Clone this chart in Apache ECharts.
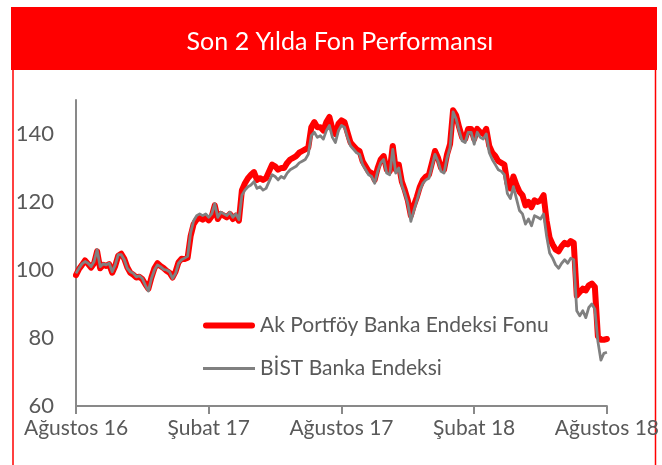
<!DOCTYPE html>
<html>
<head>
<meta charset="utf-8">
<script src="https://cdn.jsdelivr.net/npm/echarts@6/dist/echarts.min.js"></script>
<style>
  html, body { margin: 0; padding: 0; background: #ffffff; }
  #chart { width: 662px; height: 465px; }
</style>
</head>
<body>
<div id="chart"></div>
<script>
// Two years of index values (base 100), one sample roughly every three trading days
const chartTitle = 'Son 2 Yılda Fon Performansı';
const seriesNames = ['Ak Portföy Banka Endeksi Fonu', 'BİST Banka Endeksi'];
const xTickLabels = ['Ağustos 16', 'Şubat 17', 'Ağustos 17', 'Şubat 18', 'Ağustos 18'];
const yTicks = [60, 80, 100, 120, 140];

const fundValues = [
  98.5, 100.3, 101.5, 102.8, 101.8, 100.7, 102, 105.5, 100.5, 101.5, 101.2,
  101.7, 99.2, 101.2, 104.2, 104.8, 103.3, 100.8, 99.2, 98.6, 97.8,
  98, 97.3, 95.8, 94.5, 97.8, 100.5, 102, 101.2, 100.6, 99.8,
  99.2, 97.8, 99.5, 102.3, 103.3, 103.2, 103.6, 110, 113.5, 114.8,
  115.3, 114.8, 115.5, 114.6, 115.8, 119, 115, 116.5, 116, 115.5,
  116.5, 115, 116, 114.5, 123.5, 125.5, 127, 128, 128.8, 126.5,
  127, 126.5, 127, 129, 131, 130.5, 129.5, 130, 130, 131.5,
  132.5, 133, 133.5, 134.5, 135, 135.5, 136, 142, 143.5, 142,
  142, 141, 143.5, 145, 141.5, 140, 143, 144, 143.5, 140.5,
  137.5, 136.5, 135.5, 135, 132, 130.5, 129, 128.5, 126.5, 130,
  132.5, 133.5, 129.5, 129, 136.5, 129.5, 131, 126, 123.5, 120.5,
  116, 119, 121.5, 124.5, 126.5, 127.5, 128, 131.5, 135, 133,
  130, 129.5, 134, 137, 147, 145.5, 142, 139, 138.5, 141.5,
  141.5, 138.5, 141.5, 140.5, 140, 141.5, 136.5, 134.5, 133.5, 132,
  131.5, 131, 125.5, 124, 127.5, 125, 123, 122, 119, 120,
  118.5, 120.5, 120, 120.5, 122, 114.5, 109.5, 107.5, 106, 105.5,
  107, 108, 107.5, 108.5, 108, 92.5, 93.5, 94.5, 94, 95.5,
  96, 95, 80.5, 79.5, 79.5, 79.7
];

const bistValues = [
  99, 100.5, 101.8, 102.5, 102, 101, 102.5, 106, 101, 101.8, 101.5,
  102, 99.5, 101.5, 104.5, 104.5, 103, 100.5, 99.5, 99, 98,
  98.3, 97.5, 95.5, 93.8, 97.5, 100, 101.5, 101, 100.2, 100,
  99.5, 97.5, 99, 102, 103, 103.5, 104, 111, 114.5, 116,
  116.5, 116, 116.5, 115.5, 116.5, 119.5, 115.5, 117, 116.5, 116,
  117, 115.5, 116.5, 114.8, 122, 123.5, 124.5, 125, 126, 124,
  124.5, 123.5, 124, 126, 128, 127.5, 126.5, 127.5, 127, 128.5,
  129.5, 130, 130.5, 131.5, 132, 132.5, 134, 139.5, 140.5, 139,
  139.5, 138.5, 141, 142.5, 139, 137.5, 141, 142.5, 142, 139,
  136.5, 135.5, 134.5, 134, 131, 129.5, 128, 127.5, 125.5, 129,
  131.5, 132.5, 128.5, 128, 135.5, 128.5, 130, 125, 122.5, 119.5,
  114.3, 117.5, 120.5, 123.5, 125.5, 126.5, 127, 130.5, 134, 132,
  129, 128.5, 133, 136, 146.5, 144.5, 141, 138, 137.5, 140.5,
  140.5, 137, 140.5, 139, 138.5, 140, 134.5, 132.5, 131, 129.5,
  129, 128, 122.5, 121, 124.5, 121, 117.5, 116.5, 113.5, 115,
  113, 116, 115.5, 115, 116.5, 110, 105, 103.5, 101.5, 100.5,
  102, 103, 102, 103.5, 103, 88, 86.5, 88, 86, 89,
  90, 88.5, 79, 73.5, 75.5, 75.8
];

const lastIndex = fundValues.length - 1;               // 176
const tickStep = lastIndex / (xTickLabels.length - 1); // 44 samples per half year

const toPairs = arr => arr.map((v, i) => [i, v]);

const labelColor = '#595959';
const axisColor = '#898989';
const fontFamily = 'Lato, "Open Sans", sans-serif';

// Legend swatches: a thick rounded bar for the fund, a thin bar for the index
const fundSwatch = 'path://M3,0 L49,0 A3,3 0 0 1 49,6 L3,6 A3,3 0 0 1 3,0 Z';
const indexSwatch = 'path://M0,0 L52,0 L52,3 L0,3 Z';

const chart = echarts.init(document.getElementById('chart'), null, { renderer: 'canvas' });

chart.setOption({
  animation: false,
  backgroundColor: '#ffffff',
  graphic: [
    { type: 'rect', shape: { x: 11, y: 7, width: 646, height: 63 }, style: { fill: '#ff0000' }, z: 0 },
    { type: 'line', shape: { x1: 13, y1: 70, x2: 13, y2: 465 }, style: { stroke: '#ff0000', lineWidth: 1.5 } },
    { type: 'line', shape: { x1: 655.5, y1: 70, x2: 655.5, y2: 465 }, style: { stroke: '#ff0000', lineWidth: 1.5 } },
    {
      type: 'text', x: 340, y: 42,
      style: {
        text: chartTitle, fill: '#ffffff', fontSize: 25, fontFamily: fontFamily,
        align: 'center', verticalAlign: 'middle'
      }
    }
  ],
  grid: { left: 76, right: 55, top: 100, bottom: 59, containLabel: false },
  legend: {
    orient: 'vertical',
    left: 198,
    top: 310,
    itemWidth: 52,
    itemHeight: 20,
    itemGap: 22,
    symbolKeepAspect: true,
    textStyle: { color: labelColor, fontSize: 21, fontFamily: fontFamily },
    data: [
      { name: seriesNames[0], icon: fundSwatch, itemStyle: { color: '#ff0000' } },
      { name: seriesNames[1], icon: indexSwatch, itemStyle: { color: '#808080' } }
    ]
  },
  xAxis: {
    type: 'value',
    min: 0,
    max: lastIndex,
    interval: tickStep,
    axisLine: { onZero: false, lineStyle: { color: axisColor, width: 2 } },
    axisTick: { show: true, length: 8, lineStyle: { color: axisColor, width: 2 } },
    splitLine: { show: false },
    axisLabel: {
      color: labelColor, fontSize: 21, fontFamily: fontFamily, margin: 12,
      formatter: v => xTickLabels[Math.round(v / tickStep)] || ''
    }
  },
  yAxis: {
    type: 'value',
    min: yTicks[0],
    max: 150,
    interval: yTicks[1] - yTicks[0],
    axisLine: { show: true, lineStyle: { color: axisColor, width: 2 } },
    axisTick: { show: false },
    splitLine: { show: false },
    axisLabel: {
      color: labelColor, fontSize: 22, fontFamily: fontFamily, margin: 22,
      showMaxLabel: false,
      formatter: v => (yTicks.indexOf(v) >= 0 ? String(v) : '')
    }
  },
  series: [
    {
      name: seriesNames[0],
      type: 'line',
      data: toPairs(fundValues),
      symbol: 'none',
      lineStyle: { color: '#ff0000', width: 6, cap: 'round', join: 'round' },
      itemStyle: { color: '#ff0000' },
      z: 2
    },
    {
      name: seriesNames[1],
      type: 'line',
      data: toPairs(bistValues),
      symbol: 'none',
      lineStyle: { color: '#808080', width: 2.8, join: 'round' },
      itemStyle: { color: '#808080' },
      z: 3
    }
  ]
});
</script>
</body>
</html>
